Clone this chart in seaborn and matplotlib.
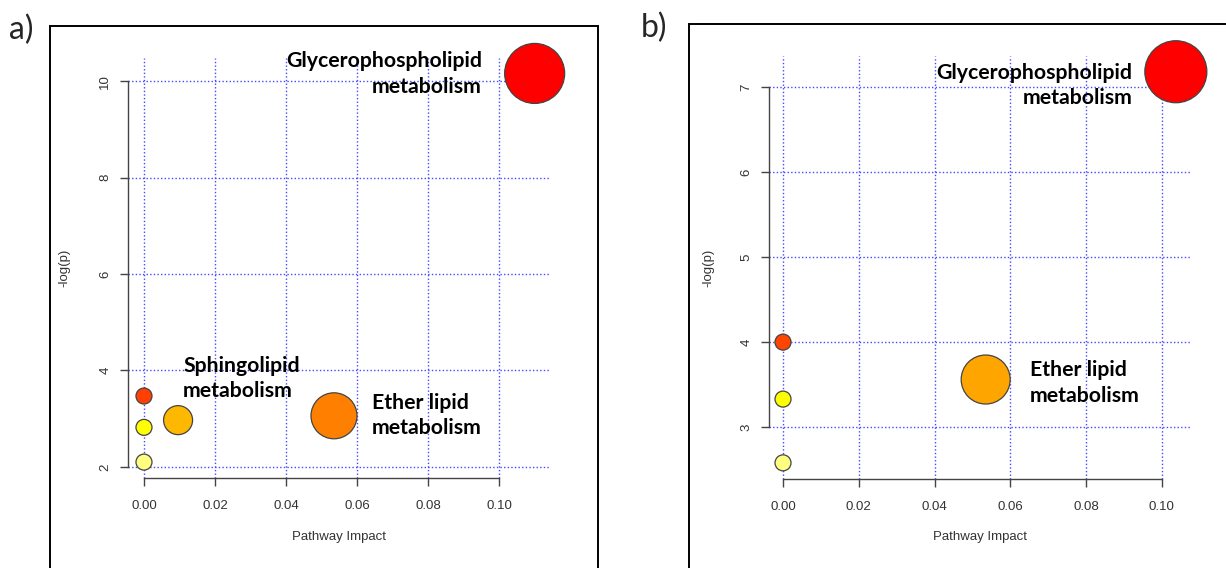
import matplotlib
matplotlib.use("Agg")
import matplotlib.pyplot as plt
import seaborn as sns
import pandas as pd
from matplotlib.patches import Rectangle

sns.set_theme(style="white")
plt.rcParams['font.family'] = ['Liberation Sans', 'DejaVu Sans']

# ---------------- data ----------------
# Panel a
a_ids = ["P1", "P2", "P3", "P4", "P5", "P6"]
a_impact = [0.110, 0.0535, 0.0096, 0.0, 0.0, 0.0]
a_logp = [10.16, 3.06, 2.97, 3.47, 2.82, 2.10]
a_colors = ["#FF0000", "#FF8000", "#FFB800", "#FF4000", "#FFFF00", "#FFFF80"]
a_radius_px = [30, 23, 14.5, 8, 8, 8]
a_labels = ["Glycerophospholipid\nmetabolism", "Ether lipid\nmetabolism",
            "Sphingolipid\nmetabolism", "", "", ""]
a_xticks = [0.00, 0.02, 0.04, 0.06, 0.08, 0.10]
a_yticks = [2, 4, 6, 8, 10]

# Panel b
b_ids = ["Q1", "Q2", "Q3", "Q4", "Q5"]
b_impact = [0.1037, 0.0535, 0.0, 0.0, 0.0]
b_logp = [7.18, 3.56, 4.00, 3.33, 2.58]
b_colors = ["#FF0000", "#FFA500", "#FF4500", "#FFFF00", "#FFFF80"]
b_radius_px = [31, 24.5, 8, 8, 8]
b_labels = ["Glycerophospholipid\nmetabolism", "Ether lipid\nmetabolism", "", "", ""]
b_xticks = [0.00, 0.02, 0.04, 0.06, 0.08, 0.10]
b_yticks = [3, 4, 5, 6, 7]

W, H = 1226, 568
fig = plt.figure(figsize=(W / 100, H / 100), dpi=100)


def px_axes(left, right, top, bottom):
    return fig.add_axes([left / W, (H - bottom) / H, (right - left) / W, (bottom - top) / H])


def draw_panel(ax, ids, xs, ys, colors, radii, labels, xticks, yticks, xlim, ylim,
               label_pos, ylab_x, xlab_y):
    df = pd.DataFrame({"id": ids, "impact": xs, "logp": ys})
    ax.set_xlim(*xlim)
    ax.set_ylim(*ylim)
    ax.set_xticks(xticks)
    ax.set_yticks(yticks)
    ax.grid(True, color="#3333FF", linestyle=(0, (1.0, 1.6)), linewidth=1.0, alpha=0.9)
    ax.set_axisbelow(True)
    sizes = {i: (2 * r * 0.72) ** 2 for i, r in zip(ids, radii)}
    palette = {i: c for i, c in zip(ids, colors)}
    sns.scatterplot(data=df, x="impact", y="logp", hue="id", size="id",
                    palette=palette, sizes=sizes, edgecolor="#444444", linewidth=0.9,
                    legend=False, ax=ax, zorder=3, alpha=1, clip_on=False)
    for sp in ["top", "right"]:
        ax.spines[sp].set_visible(False)
    for sp in ["left", "bottom"]:
        ax.spines[sp].set_color("#444444")
        ax.spines[sp].set_linewidth(1.0)
    ax.spines["left"].set_bounds(yticks[0], yticks[-1])
    ax.spines["bottom"].set_bounds(xticks[0], xticks[-1])
    ax.tick_params(axis="both", which="both", direction="out", length=6, width=1.0,
                   color="#444444", labelcolor="#333333", labelsize=9.5,
                   left=True, bottom=True)
    ax.tick_params(axis="x", pad=10)
    ax.tick_params(axis="y", pad=6)
    ax.set_xticklabels([f"{t:.2f}" for t in xticks])
    ax.set_yticklabels([str(t) for t in yticks], rotation=90, va="center")
    ax.set_xlabel("Pathway Impact", fontsize=9.5, color="#333333")
    ax.set_ylabel("-log(p)", fontsize=9.5, color="#333333")
    ax.yaxis.set_label_coords(ylab_x, 0.5)
    ax.xaxis.set_label_coords(0.5, xlab_y)
    for lab, pos in zip(labels, label_pos):
        if lab and pos is not None:
            tx, ty, ha = pos
            ax.text(tx, ty, lab, ha=ha, va="center", multialignment=ha,
                    fontsize=15.3, fontweight="bold", family=["Lato", "DejaVu Sans"],
                    color="black", linespacing=1.35, zorder=4)


ax_a = px_axes(128, 551, 58, 478)
draw_panel(ax_a, a_ids, a_impact, a_logp, a_colors, a_radius_px, a_labels,
           a_xticks, a_yticks, (-0.0045, 0.1146), (1.77, 10.48),
           [(0.0952, 10.145, "right"), (0.0642, 3.07, "left"), (0.011, 3.83, "left"),
            None, None, None], -0.137, -0.127)

ax_b = px_axes(769, 1191, 56, 479)
draw_panel(ax_b, b_ids, b_impact, b_logp, b_colors, b_radius_px, b_labels,
           b_xticks, b_yticks, (-0.0037, 0.1077), (2.39, 7.365),
           [(0.0923, 7.018, "right"), (0.0652, 3.52, "left"), None, None, None],
           -0.130, -0.124)

# outer frames
fig.patches.append(Rectangle((50 / W, -0.1), 548 / W, (H - 26) / H + 0.1,
                             transform=fig.transFigure, fill=False,
                             edgecolor="black", linewidth=1.4))
fig.patches.append(Rectangle((689 / W, -0.1), 0.6, (H - 24) / H + 0.1,
                             transform=fig.transFigure, fill=False,
                             edgecolor="black", linewidth=1.4))

fig.text(9 / W, 1 - 30 / H, "a)", fontsize=23, ha="left", va="center",
         family=["Lato", "DejaVu Sans"])
fig.text(641 / W, 1 - 28 / H, "b)", fontsize=23, ha="left", va="center",
         family=["Lato", "DejaVu Sans"])

fig.savefig("out.png", dpi=100)
